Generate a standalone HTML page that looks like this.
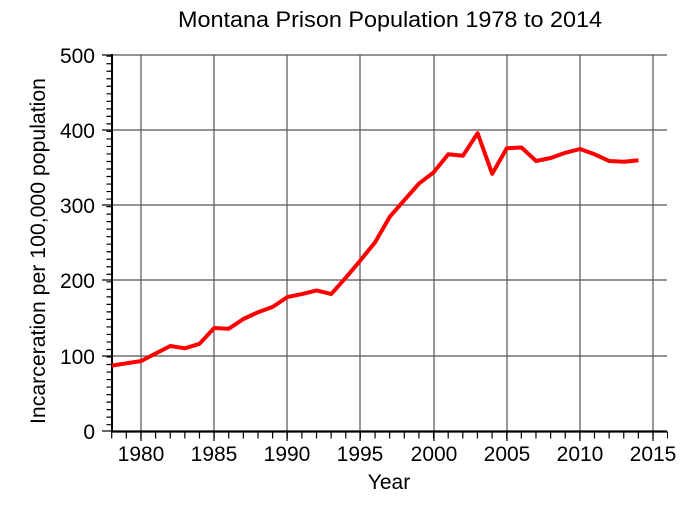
<!DOCTYPE html>
<html><head><style>body{margin:0;background:#fff}svg{display:block}text{font-family:"Liberation Sans",sans-serif;fill:#000}</style></head><body>
<svg width="685" height="512" viewBox="0 0 685 512" xmlns="http://www.w3.org/2000/svg">
<text x="390" y="27" font-size="22" text-anchor="middle" textLength="424" lengthAdjust="spacingAndGlyphs">Montana Prison Population 1978 to 2014</text>
<g stroke="#555" stroke-width="1.2">
<line x1="112" y1="55" x2="667" y2="55"/><line x1="112" y1="130" x2="667" y2="130"/><line x1="112" y1="205" x2="667" y2="205"/><line x1="112" y1="280" x2="667" y2="280"/><line x1="112" y1="356" x2="667" y2="356"/>
<line x1="141" y1="55" x2="141" y2="431"/><line x1="214" y1="55" x2="214" y2="431"/><line x1="287" y1="55" x2="287" y2="431"/><line x1="360" y1="55" x2="360" y2="431"/><line x1="434" y1="55" x2="434" y2="431"/><line x1="507" y1="55" x2="507" y2="431"/><line x1="580" y1="55" x2="580" y2="431"/><line x1="653" y1="55" x2="653" y2="431"/>
</g>
<g stroke="#000">
<line x1="109" y1="55.6" x2="109" y2="431" stroke-width="5" stroke-dasharray="1.2 6.32"/>
<line x1="111.1" y1="435" x2="668" y2="435" stroke-width="7" stroke-dasharray="1.2 13.43"/>
<g stroke-width="1.2">
<line x1="102" y1="55" x2="112" y2="55"/><line x1="102" y1="130" x2="112" y2="130"/><line x1="102" y1="205" x2="112" y2="205"/><line x1="102" y1="280" x2="112" y2="280"/><line x1="102" y1="356" x2="112" y2="356"/><line x1="102" y1="431" x2="112" y2="431"/>
<line x1="141" y1="431" x2="141" y2="441"/><line x1="214" y1="431" x2="214" y2="441"/><line x1="287" y1="431" x2="287" y2="441"/><line x1="360" y1="431" x2="360" y2="441"/><line x1="434" y1="431" x2="434" y2="441"/><line x1="507" y1="431" x2="507" y2="441"/><line x1="580" y1="431" x2="580" y2="441"/><line x1="653" y1="431" x2="653" y2="441"/>
</g>
<line x1="112" y1="54" x2="112" y2="432" stroke-width="2"/><line x1="111" y1="431.5" x2="667" y2="431.5" stroke-width="2.2"/>
</g>
<text font-size="21" text-anchor="end">
<tspan x="95" y="63">500</tspan><tspan x="95" y="138">400</tspan><tspan x="95" y="213">300</tspan><tspan x="95" y="288">200</tspan><tspan x="95" y="364">100</tspan><tspan x="95" y="439">0</tspan></text>
<text font-size="21" text-anchor="middle" y="461"><tspan x="141">1980</tspan><tspan x="214">1985</tspan><tspan x="287">1990</tspan><tspan x="360">1995</tspan><tspan x="434">2000</tspan><tspan x="507">2005</tspan><tspan x="580">2010</tspan><tspan x="653">2015</tspan></text>
<text x="389" y="489" font-size="21" text-anchor="middle">Year</text>
<text transform="translate(45,251) rotate(-90)" font-size="21" text-anchor="middle" textLength="346" lengthAdjust="spacingAndGlyphs">Incarceration per 100,000 population</text>
<polyline fill="none" stroke="#f00" stroke-width="4" stroke-linejoin="round" points="111.7,365.6 126.4,363.3 141,361.1 155.6,353.5 170.3,346 184.9,348.3 199.5,343.8 214.2,328 228.8,328.7 243.4,319 258.1,312.2 272.7,306.9 287.3,297.1 302,294.1 316.6,290.4 331.2,294.1 345.9,277.6 360.5,260.3 375.1,242.2 389.8,216.7 404.4,200.1 419,183.6 433.7,172.3 448.3,154.3 462.9,155.8 477.6,133.2 492.2,173.8 506.8,148.2 521.5,147.5 536.1,161 550.7,158 565.4,152.8 580,149 594.6,154.3 609.3,161 623.9,161.8 638.5,160.3"/>
</svg>
</body></html>
